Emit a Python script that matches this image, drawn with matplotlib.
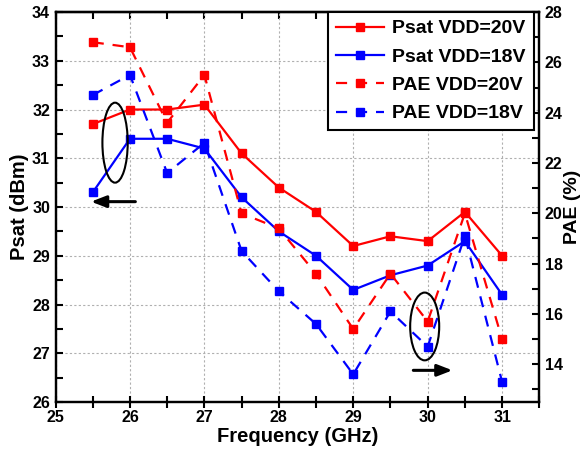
import matplotlib
matplotlib.use("Agg")
import matplotlib.pyplot as plt
from matplotlib.patches import Ellipse
from matplotlib.ticker import MultipleLocator

plt.rcParams['font.family'] = ['Liberation Sans', 'DejaVu Sans']
plt.rcParams['font.weight'] = 'bold'

freq = [25.5, 26, 26.5, 27, 27.5, 28, 28.5, 29, 29.5, 30, 30.5, 31]
psat_20 = [31.7, 32.0, 32.0, 32.1, 31.1, 30.4, 29.9, 29.2, 29.4, 29.3, 29.9, 29.0]
psat_18 = [30.3, 31.4, 31.4, 31.2, 30.2, 29.5, 29.0, 28.3, 28.6, 28.8, 29.3, 28.2]
pae_20 = [26.8, 26.6, 23.6, 25.5, 20.0, 19.4, 17.6, 15.4, 17.6, 15.7, 20.0, 15.0]
pae_18 = [24.7, 25.5, 21.6, 22.8, 18.5, 16.9, 15.6, 13.6, 16.1, 14.7, 19.1, 13.3]
labels = ['Psat VDD=20V', 'Psat VDD=18V', 'PAE VDD=20V', 'PAE VDD=18V']

fig = plt.figure(figsize=(5.85, 4.57), dpi=100)
ax = fig.add_axes([0.0949, 0.1203, 0.9219 - 0.0949, 0.9737 - 0.1203])
ax2 = ax.twinx()

lw = 1.6
ms = 6
dash = (0, (5, 4))
h1, = ax.plot(freq, psat_20, color='#ff0000', lw=lw, marker='s', ms=ms, label=labels[0])
h2, = ax.plot(freq, psat_18, color='#0000ff', lw=lw, marker='s', ms=ms, label=labels[1])
h3, = ax2.plot(freq, pae_20, color='#ff0000', lw=lw, ls=dash, marker='s', ms=ms, label=labels[2])
h4, = ax2.plot(freq, pae_18, color='#0000ff', lw=lw, ls=dash, marker='s', ms=ms, label=labels[3])

ax.set_xlim(25, 31.5)
ax.set_ylim(26, 34)
ax2.set_ylim(12.5, 28)

ax.xaxis.set_major_locator(MultipleLocator(1))
ax.xaxis.set_minor_locator(MultipleLocator(0.5))
ax.yaxis.set_major_locator(MultipleLocator(1))
ax.yaxis.set_minor_locator(MultipleLocator(0.5))
ax2.yaxis.set_major_locator(MultipleLocator(2))
ax2.yaxis.set_minor_locator(MultipleLocator(1))

ax.grid(True, which='major', color='#b0b0b0', ls=(0, (2, 2)), lw=0.8)
ax.set_axisbelow(True)

for a in (ax, ax2):
    for s in a.spines.values():
        s.set_linewidth(1.6)

tls = 11.5
ax.tick_params(axis='x', which='both', direction='inout', top=False, width=1.5, labelsize=tls, pad=2, length=8)
ax.tick_params(axis='y', which='both', direction='in', width=1.5, labelsize=tls, pad=4, length=5)
ax2.tick_params(axis='y', which='both', direction='in', width=1.5, labelsize=tls, pad=4, length=5)

sec = ax.secondary_xaxis('top')
sec.xaxis.set_major_locator(MultipleLocator(0.5))
sec.tick_params(which='both', direction='in', length=5, width=1.5, labeltop=False)
sec.spines['top'].set_linewidth(1.6)

ax.set_xlabel('Frequency (GHz)', fontsize=14.5, fontweight='bold', labelpad=1)
ax.set_ylabel('Psat (dBm)', fontsize=14.5, fontweight='bold', labelpad=2)
ax2.set_ylabel('PAE (%)', fontsize=14, fontweight='bold', labelpad=1)

for t in ax.get_xticklabels() + ax.get_yticklabels() + ax2.get_yticklabels():
    t.set_fontweight('bold')

leg = ax2.legend(handles=[h1, h2, h3, h4], loc='upper right', bbox_to_anchor=(0.988, 1.0),
                 borderaxespad=0, fancybox=False, framealpha=1, edgecolor='black',
                 handlelength=2.5, handletextpad=0.4, labelspacing=0.55,
                 borderpad=0.4, prop={'weight': 'bold', 'size': 14})
leg.get_frame().set_linewidth(1.5)

ax2.add_patch(Ellipse((25.8, 31.32), 0.34, 1.64, transform=ax.transData,
                      fill=False, ec='black', lw=1.5, zorder=5))
ax2.add_patch(Ellipse((29.96, 27.55), 0.39, 1.39, transform=ax.transData,
                      fill=False, ec='black', lw=1.5, zorder=5))
ax.annotate('', xy=(25.44, 30.11), xytext=(26.11, 30.11),
            arrowprops=dict(arrowstyle='-|>,head_length=0.9,head_width=0.35', color='black', lw=2.2))
ax.annotate('', xy=(30.37, 26.65), xytext=(29.77, 26.65),
            arrowprops=dict(arrowstyle='-|>,head_length=0.9,head_width=0.35', color='black', lw=2.2),
            zorder=6)

fig.savefig('out.png', dpi=100)
